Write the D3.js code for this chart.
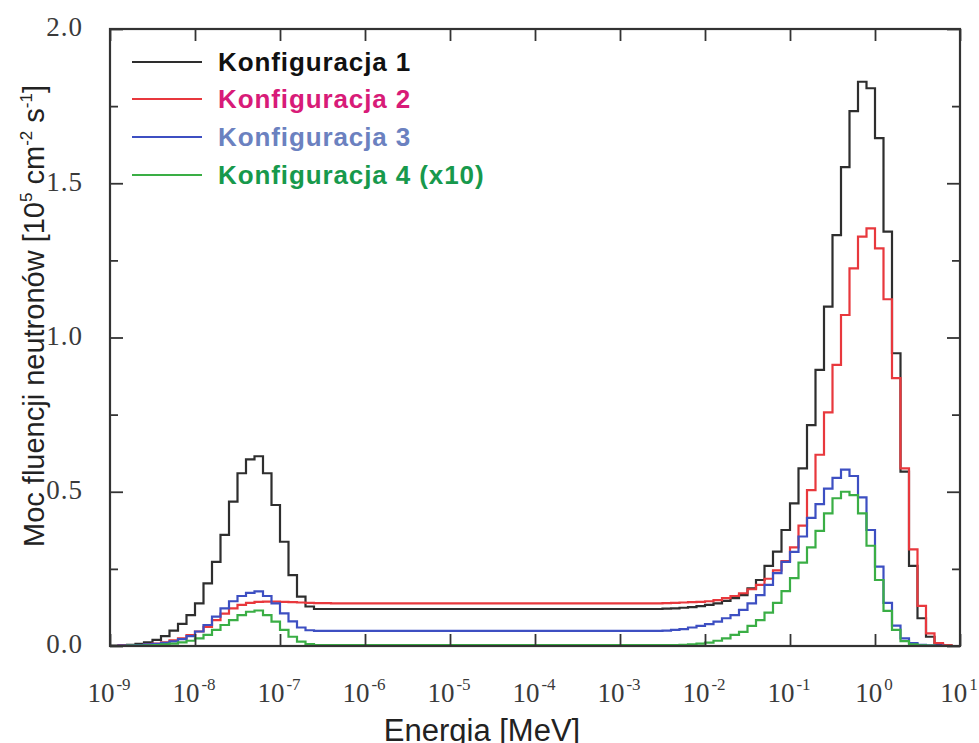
<!DOCTYPE html>
<html>
<head>
<meta charset="utf-8">
<script src="https://cdn.jsdelivr.net/npm/d3@7"></script>
<style>
  html, body { margin:0; padding:0; background:#fff; }
  svg { display:block; }
</style>
</head>
<body>
<svg id="chart" width="979" height="743"></svg>
<script>
/* ===== Neutron fluence spectra — 4 configurations, log energy bins (10 / decade) ===== */

// bin edges: log10(E/MeV) from -9 to 1, 10 bins per decade
const BIN_EDGES_EXP = d3.range(101).map(i => -9 + i / 10);

const X_TICK_EXP = [-9, -8, -7, -6, -5, -4, -3, -2, -1, 0, 1];
const Y_TICKS = [0.0, 0.5, 1.0, 1.5, 2.0];
const Y_MINOR = [0.25, 0.75, 1.25, 1.75];

const SERIES_NAMES = ["Konfiguracja 1", "Konfiguracja 2", "Konfiguracja 3", "Konfiguracja 4 (x10)"];

// values per bin [1e5 cm^-2 s^-1]
const konf1 = [
  0.001, 0.002, 0.004, 0.007, 0.012, 0.020, 0.032, 0.050, 0.072, 0.100,
  0.138, 0.203, 0.273, 0.360, 0.468, 0.560, 0.605, 0.615, 0.560, 0.457,
  0.338, 0.230, 0.160, 0.128, 0.120, 0.120, 0.120, 0.120, 0.120, 0.120,
  0.120, 0.120, 0.120, 0.120, 0.120, 0.120, 0.120, 0.120, 0.120, 0.120,
  0.120, 0.120, 0.120, 0.120, 0.120, 0.120, 0.120, 0.120, 0.120, 0.120,
  0.120, 0.120, 0.120, 0.120, 0.120, 0.120, 0.120, 0.120, 0.120, 0.120,
  0.120, 0.120, 0.120, 0.120, 0.120, 0.121, 0.122, 0.124, 0.126, 0.129,
  0.133, 0.138, 0.146, 0.155, 0.165, 0.187, 0.214, 0.260, 0.306, 0.376,
  0.462, 0.576, 0.716, 0.895, 1.100, 1.332, 1.552, 1.734, 1.829, 1.808,
  1.646, 1.343, 0.949, 0.565, 0.260, 0.090, 0.030, 0.007, 0.002, 0.000
];
const konf2 = [
  0.000, 0.001, 0.002, 0.003, 0.005, 0.008, 0.012, 0.018, 0.025, 0.035,
  0.047, 0.062, 0.084, 0.105, 0.122, 0.133, 0.140, 0.143, 0.144, 0.144,
  0.143, 0.142, 0.141, 0.140, 0.139, 0.139, 0.138, 0.138, 0.138, 0.138,
  0.138, 0.138, 0.138, 0.138, 0.138, 0.138, 0.138, 0.138, 0.138, 0.138,
  0.138, 0.138, 0.138, 0.138, 0.138, 0.138, 0.138, 0.138, 0.138, 0.138,
  0.138, 0.138, 0.138, 0.138, 0.138, 0.138, 0.138, 0.138, 0.138, 0.138,
  0.138, 0.138, 0.138, 0.138, 0.138, 0.139, 0.140, 0.141, 0.142, 0.143,
  0.145, 0.149, 0.155, 0.162, 0.171, 0.184, 0.198, 0.218, 0.245, 0.275,
  0.320, 0.390, 0.505, 0.620, 0.757, 0.911, 1.073, 1.224, 1.327, 1.354,
  1.289, 1.124, 0.868, 0.576, 0.313, 0.130, 0.041, 0.009, 0.002, 0.000
];
const konf3 = [
  0.000, 0.001, 0.002, 0.003, 0.005, 0.007, 0.010, 0.015, 0.022, 0.032,
  0.047, 0.068, 0.095, 0.122, 0.145, 0.162, 0.172, 0.177, 0.162, 0.138,
  0.106, 0.080, 0.060, 0.051, 0.049, 0.049, 0.049, 0.049, 0.049, 0.049,
  0.049, 0.049, 0.049, 0.049, 0.049, 0.049, 0.049, 0.049, 0.049, 0.049,
  0.049, 0.049, 0.049, 0.049, 0.049, 0.049, 0.049, 0.049, 0.049, 0.049,
  0.049, 0.049, 0.049, 0.049, 0.049, 0.049, 0.049, 0.049, 0.049, 0.049,
  0.049, 0.049, 0.049, 0.049, 0.049, 0.050, 0.052, 0.055, 0.060, 0.065,
  0.071, 0.079, 0.090, 0.100, 0.117, 0.138, 0.165, 0.198, 0.236, 0.273,
  0.305, 0.355, 0.415, 0.460, 0.510, 0.545, 0.572, 0.551, 0.482, 0.376,
  0.257, 0.140, 0.066, 0.025, 0.009, 0.004, 0.002, 0.001, 0.000, 0.000
];
const konf4 = [
  0.000, 0.000, 0.001, 0.001, 0.002, 0.003, 0.005, 0.008, 0.012, 0.017,
  0.025, 0.036, 0.052, 0.068, 0.084, 0.100, 0.111, 0.115, 0.100, 0.079,
  0.052, 0.030, 0.014, 0.006, 0.003, 0.003, 0.003, 0.003, 0.003, 0.003,
  0.003, 0.003, 0.003, 0.003, 0.003, 0.003, 0.003, 0.003, 0.003, 0.003,
  0.003, 0.003, 0.003, 0.003, 0.003, 0.003, 0.003, 0.003, 0.003, 0.003,
  0.003, 0.003, 0.003, 0.003, 0.003, 0.003, 0.003, 0.003, 0.003, 0.003,
  0.003, 0.003, 0.003, 0.003, 0.003, 0.003, 0.003, 0.004, 0.005, 0.008,
  0.011, 0.017, 0.025, 0.036, 0.046, 0.065, 0.084, 0.108, 0.140, 0.178,
  0.220, 0.270, 0.320, 0.373, 0.430, 0.479, 0.500, 0.489, 0.430, 0.325,
  0.214, 0.114, 0.052, 0.016, 0.005, 0.002, 0.001, 0.000, 0.000, 0.000
];

const LINE_COLORS = ["#2e2e2e", "#e8383d", "#3d4fc2", "#3aae45"];
const TEXT_COLORS = ["#111111", "#d81b78", "#6b81c0", "#17994c"];

/* ---------- layout ---------- */
const W = 979, H = 743;
const M = { l:110, r:W-960, t:29, b:H-646 };
const SERIF = "'Liberation Serif','Times New Roman',serif";
const SANS  = "'Liberation Sans',Arial,sans-serif";

const svg = d3.select("#chart");

const x = d3.scaleLog().domain([1e-9, 1e1]).range([M.l, W - M.r]);
const y = d3.scaleLinear().domain([0, 2]).range([H - M.b, M.t]);

/* ---------- series (step histograms) ---------- */
const line = d3.line()
  .x(d => x(Math.pow(10, d[0])))
  .y(d => y(d[1]))
  .curve(d3.curveStepAfter);

const allSeries = [konf1, konf2, konf3, konf4];
const plot = svg.append("g");
allSeries.forEach((vals, si) => {
  const pts = vals.map((v, i) => [BIN_EDGES_EXP[i], v]);
  pts.push([BIN_EDGES_EXP[vals.length], vals[vals.length - 1]]);
  plot.append("path")
    .attr("d", line(pts))
    .attr("fill", "none")
    .attr("stroke", LINE_COLORS[si])
    .attr("stroke-width", 2.2)
    .attr("stroke-linejoin", "miter");
});

/* ---------- axes (ticks inward on all four sides) ---------- */
const tickVals = X_TICK_EXP.map(e => Math.pow(10, e));
const axisCol = "#333";

function styleAxis(g){
  g.select(".domain").remove();
  g.selectAll(".tick line").attr("stroke", axisCol).attr("stroke-width", 1.8);
}
svg.append("g").attr("transform", `translate(0,${H - M.b})`)
  .call(d3.axisBottom(x).tickValues(tickVals).tickSize(-12).tickFormat(""))
  .call(styleAxis);
svg.append("g").attr("transform", `translate(0,${M.t})`)
  .call(d3.axisTop(x).tickValues(tickVals).tickSize(-12).tickFormat(""))
  .call(styleAxis);
svg.append("g").attr("transform", `translate(${M.l},0)`)
  .call(d3.axisLeft(y).tickValues(Y_TICKS).tickSize(-13).tickFormat(""))
  .call(styleAxis);
svg.append("g").attr("transform", `translate(${M.l},0)`)
  .call(d3.axisLeft(y).tickValues(Y_MINOR).tickSize(-8).tickFormat(""))
  .call(styleAxis);
svg.append("g").attr("transform", `translate(${W - M.r},0)`)
  .call(d3.axisRight(y).tickValues(Y_TICKS).tickSize(-13).tickFormat(""))
  .call(styleAxis);
svg.append("g").attr("transform", `translate(${W - M.r},0)`)
  .call(d3.axisRight(y).tickValues(Y_MINOR).tickSize(-8).tickFormat(""))
  .call(styleAxis);

// frame
svg.append("rect")
  .attr("x", M.l).attr("y", M.t)
  .attr("width", W - M.r - M.l).attr("height", H - M.b - M.t)
  .attr("fill", "none").attr("stroke", axisCol).attr("stroke-width", 2.2);

/* ---------- tick labels ---------- */
svg.append("g").selectAll("text").data(Y_TICKS).join("text")
  .attr("x", 83).attr("y", d => y(d) - 2)
  .attr("dy", "0.35em")
  .attr("text-anchor", "end")
  .attr("font-family", SERIF).attr("font-size", 27).attr("fill", "#3a3a3a")
  .attr("letter-spacing", 1)
  .text(d => d.toFixed(1));

const xl = svg.append("g").selectAll("text").data(X_TICK_EXP).join("text")
  .attr("x", d => x(Math.pow(10, d)) - 1).attr("y", 702)
  .attr("text-anchor", "middle")
  .attr("font-family", SERIF).attr("font-size", 27).attr("fill", "#3a3a3a");
xl.append("tspan").text("10");
xl.append("tspan").attr("dy", -12).attr("font-size", 17).attr("dx", 2).text(d => String(d));

/* ---------- axis titles ---------- */
svg.append("text")
  .attr("x", 482).attr("y", 741)
  .attr("text-anchor", "middle")
  .attr("font-family", SANS).attr("font-size", 31).attr("fill", "#222")
  .text("Energia [MeV]");

const yt = svg.append("text")
  .attr("transform", "translate(44,316) rotate(-90)")
  .attr("text-anchor", "middle")
  .attr("font-family", SANS).attr("font-size", 29).attr("fill", "#222");
yt.append("tspan").text("Moc fluencji neutronów [10");
yt.append("tspan").attr("font-size", 17).attr("dy", -12).text("5");
yt.append("tspan").attr("dy", 12).text(" cm");
yt.append("tspan").attr("font-size", 17).attr("dy", -12).text("-2");
yt.append("tspan").attr("dy", 12).text(" s");
yt.append("tspan").attr("font-size", 17).attr("dy", -12).text("-1");
yt.append("tspan").attr("dy", 12).text("]");

/* ---------- legend ---------- */
const LEG_Y = [62, 99, 137, 175];
const leg = svg.append("g");
SERIES_NAMES.forEach((name, i) => {
  leg.append("line")
    .attr("x1", 132).attr("x2", 202)
    .attr("y1", LEG_Y[i]).attr("y2", LEG_Y[i])
    .attr("stroke", LINE_COLORS[i]).attr("stroke-width", 2.2);
  leg.append("text")
    .attr("x", 218).attr("y", LEG_Y[i]).attr("dy", "0.35em")
    .attr("font-family", SANS).attr("font-size", 26).attr("font-weight", 700)
    .attr("letter-spacing", 0.9)
    .attr("fill", TEXT_COLORS[i])
    .text(name);
});
</script>
</body>
</html>
